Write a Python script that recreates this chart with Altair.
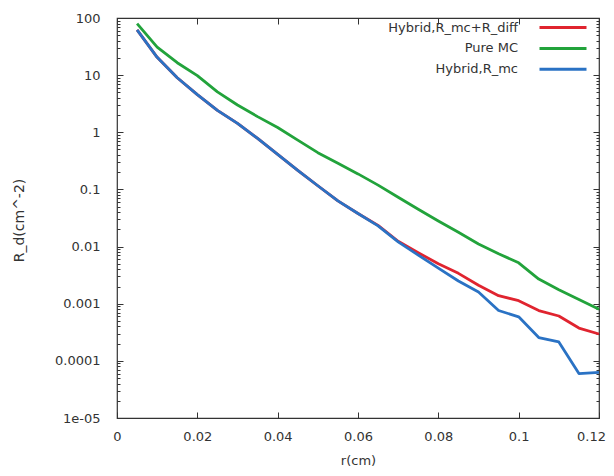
import altair as alt
import pandas as pd

# ---- data ----
r_cm = [0.005, 0.010, 0.015, 0.020, 0.025, 0.030, 0.035, 0.040, 0.045, 0.050,
        0.055, 0.060, 0.065, 0.070, 0.075, 0.080, 0.085, 0.090, 0.095, 0.100,
        0.105, 0.110, 0.115, 0.120]

hybrid_mc_diff = [62, 20.5, 9.0, 4.55, 2.42, 1.43, 0.78, 0.41, 0.215, 0.116,
                  0.063, 0.038, 0.0235, 0.0124, 0.0078, 0.0050, 0.0034, 0.0021,
                  0.00138, 0.00113, 0.00076, 0.00061, 0.000375, 0.000295]

pure_mc = [80, 31, 16.5, 9.8, 5.1, 3.0, 1.88, 1.21, 0.73, 0.44,
           0.286, 0.187, 0.119, 0.073, 0.045, 0.028, 0.0178, 0.0111,
           0.0075, 0.0052, 0.0027, 0.00176, 0.00118, 0.0008]

hybrid_mc = [62, 20.5, 9.0, 4.55, 2.42, 1.43, 0.78, 0.41, 0.215, 0.116,
             0.063, 0.038, 0.023, 0.0121, 0.0071, 0.0042, 0.0025, 0.0016,
             0.00076, 0.00059, 0.000256, 0.000214, 0.00006, 0.000063]

series_names = ["Hybrid,R_mc+R_diff", "Pure MC", "Hybrid,R_mc"]
series_colors = ["#e0242f", "#22a33b", "#2a72c4"]

x_tick_values = [0, 0.02, 0.04, 0.06, 0.08, 0.1, 0.12]
x_tick_labels = ["0", "0.02", "0.04", "0.06", "0.08", "0.1", "0.12"]
y_tick_values = [1e-5, 1e-4, 1e-3, 1e-2, 1e-1, 1, 10, 100]
y_tick_labels = ["1e-05", "0.0001", "0.001", "0.01", "0.1", "1", "10", "100"]
y_minor_values = [m * d for d in y_tick_values[:-1] for m in range(2, 10)]

# ---- table ----
rows = []
for name, vals in zip(series_names, [hybrid_mc_diff, pure_mc, hybrid_mc]):
    for r, v in zip(r_cm, vals):
        rows.append({"r": r, "R": v, "series": name})
df = pd.DataFrame(rows)

x_label_expr = "[" + ",".join(f"'{t}'" for t in x_tick_labels) + "][round(datum.value / 0.02)]"
y_label_expr = "[" + ",".join(f"'{t}'" for t in y_tick_labels) + "][round(log(datum.value) / LN10) + 5]"

x_scale = alt.Scale(domain=[0, 0.12], nice=False, zero=False)
y_scale = alt.Scale(type="log", domain=[1e-5, 100], nice=False)

TICK = 6
MINOR = 3

lines = alt.Chart(df).mark_line(strokeWidth=2.8, strokeJoin="round").encode(
    x=alt.X("r:Q", scale=x_scale, axis=alt.Axis(
        orient="bottom", values=x_tick_values, labelExpr=x_label_expr,
        title="r(cm)", offset=-TICK, tickSize=TICK, domain=False,
        labelPadding=12, labelFlush=False, labelOverlap=False,
        labelOffset={"condition": {"test": "datum.value > 0.119", "value": -8}, "value": 0},
        titleY=48.5, titleBaseline="middle", grid=False)),
    y=alt.Y("R:Q", scale=y_scale, axis=alt.Axis(
        orient="left", values=y_tick_values, labelExpr=y_label_expr,
        title="R_d(cm^-2)", offset=-TICK, tickSize=TICK, domain=False,
        labelPadding=17, labelOverlap=False, labelFlush=False,
        titleX=-104, titleY=202, titleFontSize=14,
        titleBaseline="middle", grid=False)),
    color=alt.Color("series:N",
                    scale=alt.Scale(domain=series_names, range=series_colors),
                    legend=alt.Legend(
                        title=None, orient="none", legendX=416, legendY=3,
                        symbolType="M-4.7,0H4.7", symbolSize=100,
                        symbolStrokeWidth=3, symbolOffset=23.5,
                        rowPadding=6.9,
                        labelAlign="right", labelOffset={"expr": "-51.5"},
                        padding=0,
                        labelFont="DejaVu Sans", labelFontSize=13,
                        labelColor="#333333", labelLimit=300)),
    detail="series:N",
)

mirror = alt.Chart(df).mark_point(opacity=0, size=1).encode(
    x=alt.X("r:Q", scale=x_scale, axis=alt.Axis(
        orient="top", values=x_tick_values, labels=False, title=None,
        offset=-TICK, tickSize=TICK, domain=False, grid=False)),
    y=alt.Y("R:Q", scale=y_scale, axis=alt.Axis(
        orient="right", values=y_tick_values, labels=False, title=None,
        offset=-TICK, tickSize=TICK, domain=False, grid=False)),
)

minor_left = alt.Chart(df).mark_point(opacity=0, size=1).encode(
    x=alt.X("r:Q", scale=x_scale, axis=None),
    y=alt.Y("R:Q", scale=y_scale, axis=alt.Axis(
        orient="left", values=y_minor_values, labels=False, title=None,
        offset=-MINOR, tickSize=MINOR, domain=False, grid=False)),
)

minor_right = alt.Chart(df).mark_point(opacity=0, size=1).encode(
    x=alt.X("r:Q", scale=x_scale, axis=None),
    y=alt.Y("R:Q", scale=y_scale, axis=alt.Axis(
        orient="right", values=y_minor_values, labels=False, title=None,
        offset=-MINOR, tickSize=MINOR, domain=False, grid=False)),
)

chart = alt.layer(lines, mirror, minor_left, minor_right).resolve_axis(
    x="independent", y="independent"
).properties(
    width=482, height=400,
    autosize=alt.AutoSizeParams(type="none"),
    padding={"left": 109, "top": 10, "right": 7, "bottom": 50},
).configure_axis(
    labelFont="DejaVu Sans", labelFontSize=13, labelColor="#333333",
    titleFont="DejaVu Sans", titleFontSize=13, titleFontWeight="normal",
    titleColor="#333333", tickColor="#333333", tickWidth=1,
).configure_view(
    stroke="#333333", strokeWidth=1.2
)

chart.save("out.html", embed_options={"renderer": "svg", "actions": False})
